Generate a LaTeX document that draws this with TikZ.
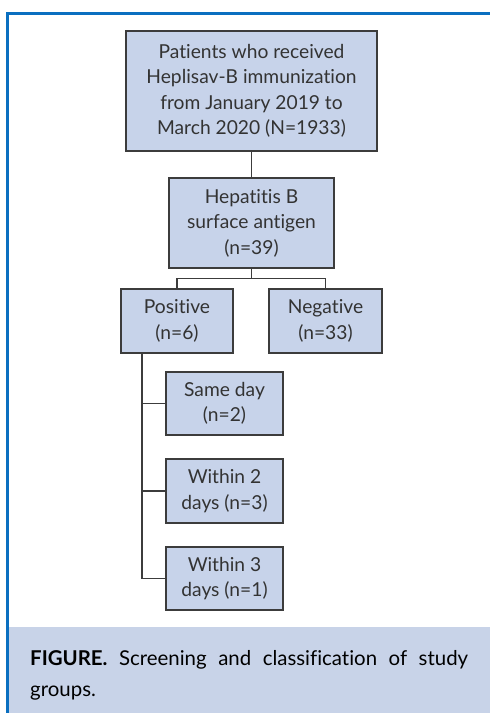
\documentclass[tikz,border=0pt]{standalone}
\usepackage{fontspec}
\setmainfont[Ligatures={NoCommon}]{Lato}
\definecolor{boxfill}{HTML}{C7D3EA}
\definecolor{capfill}{HTML}{C8D3E8}
\definecolor{framecol}{HTML}{0A6FC0}
\definecolor{linecol}{HTML}{3C3C3C}
\tikzset{
  flowbox/.style={draw=linecol, line width=1.3bp, fill=boxfill, align=center,
    inner sep=0pt, font=\fontsize{19.3}{25.6}\selectfont, text=black!80},
  conn/.style={draw=linecol, line width=1.3bp},
}
\begin{document}
\begin{tikzpicture}[x=1bp,y=-1bp]
\useasboundingbox (0,0) rectangle (490,713);
\fill[white] (0,0) rectangle (490,713);
% caption background
\fill[capfill] (9,627) rectangle (490,713);
% frame
\draw[framecol, line width=3bp] (7.5,713) -- (7.5,13.5) -- (490,13.5);
% boxes
\node[flowbox, minimum width=251bp, minimum height=120bp] (b1) at (251.5,91)
  {Patients who received\\Heplisav-B immunization\\from January 2019 to\\March 2020 (N=1933)};
\node[flowbox, minimum width=165bp, minimum height=90bp] (b2) at (251.5,223)
  {Hepatitis B\\surface antigen\\(n=39)};
\node[flowbox, minimum width=112bp, minimum height=64bp] (pos) at (177,321)
  {Positive\\(n=6)};
\node[flowbox, minimum width=113bp, minimum height=64bp] (neg) at (325.5,321)
  {Negative\\(n=33)};
\node[flowbox, minimum width=117bp, minimum height=63bp] (s1) at (224.5,403.5)
  {Same day\\(n=2)};
\node[flowbox, minimum width=117bp, minimum height=64bp] (s2) at (224.5,491)
  {Within 2\\days (n=3)};
\node[flowbox, minimum width=117bp, minimum height=63bp] (s3) at (224.5,578.5)
  {Within 3\\days (n=1)};
% connectors
\draw[conn] (b1.south) -- (b2.north);
\draw[conn] (b2.south) -- ++(0,10) -| (pos.north);
\draw[conn] (b2.south) -- ++(0,10) -| (neg.north);
\coordinate (trunk) at (142,353);
\draw[conn] (trunk) |- (s1.west);
\draw[conn] (trunk) |- (s2.west);
\draw[conn] (trunk) |- (s3.west);
% caption
\node[anchor=base west, inner sep=0pt, font=\fontsize{20.5}{30}\selectfont] (cap1) at (30,665)
  {\makebox[438bp][s]{\textbf{FIGURE.} Screening and classification of study}};
\node[anchor=base west, inner sep=0pt, font=\fontsize{20.5}{30}\selectfont] (cap2) at (30,696)
  {groups.};
\end{tikzpicture}
\end{document}
